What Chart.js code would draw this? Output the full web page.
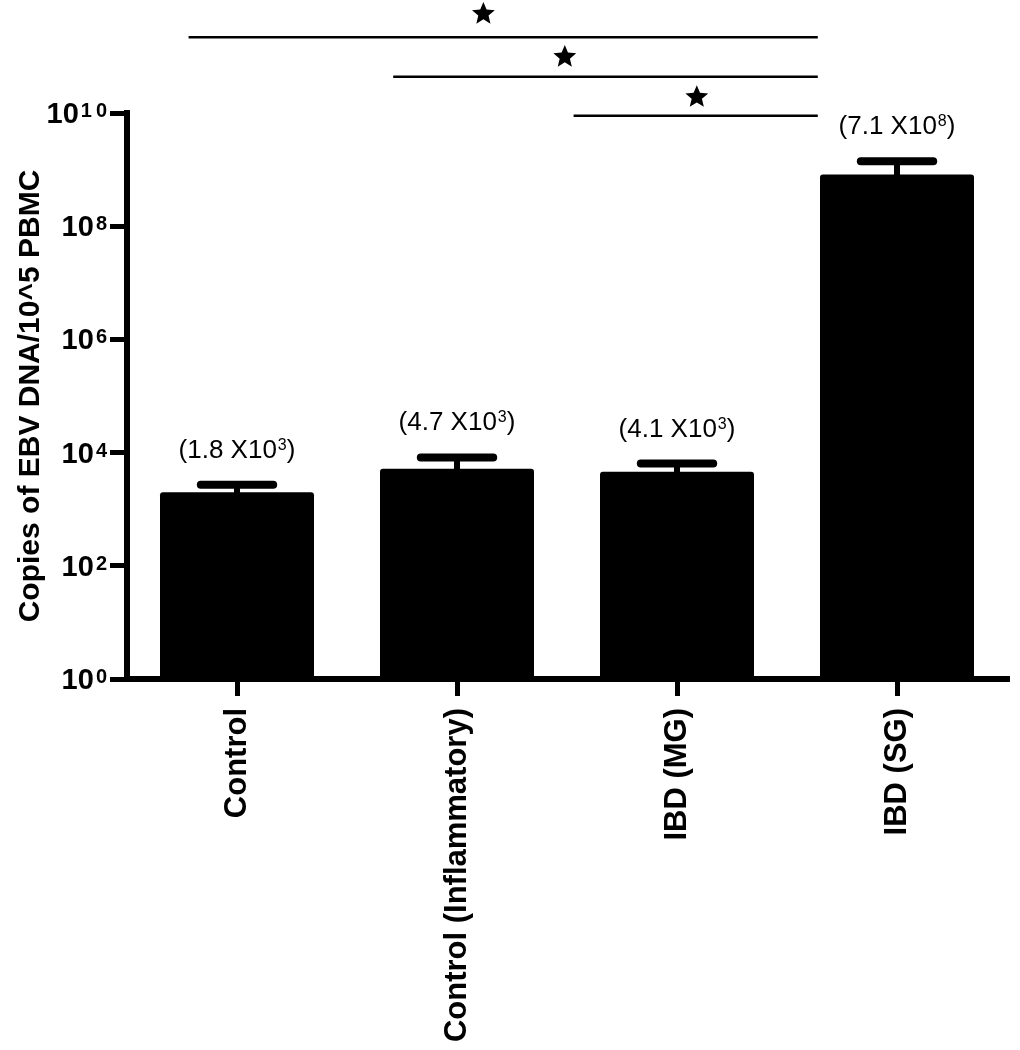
<!DOCTYPE html>
<html>
<head>
<meta charset="utf-8">
<script src="https://cdn.jsdelivr.net/npm/chart.js@4.4.0/dist/chart.umd.min.js"></script>
<style>
  html, body { margin: 0; padding: 0; background: #fff; }
  canvas { display: block; }
</style>
</head>
<body>
<canvas id="ebv" width="1020" height="1050"></canvas>
<script>
(function () {
    "use strict";

    // Data
    var groups = ["Control", "Control (Inflammatory)", "IBD (MG)", "IBD (SG)"];
    var copies = [2000, 5200, 4600, 8.2e8];
    var errTop = [2700, 8200, 6400, 1.4e9];
    var meanText = ["1.8", "4.7", "4.1", "7.1"];
    var meanExp = ["3", "3", "3", "8"];
    var yTicks = [1, 1e2, 1e4, 1e6, 1e8, 1e10];

    // Significance bars (x in category units, heights as log10 of value)
    var sigFrom = [-0.22, 0.71, 1.53];
    var sigTo = [2.64, 2.64, 2.64];
    var sigLevel = [11.34, 10.64, 9.95];
    var starAt = [1.12, 1.49, 2.09];
    var starLevel = [11.75, 10.99, 10.28];

    var FONT = "'Liberation Sans', Arial, sans-serif";

    function star(c, x, y, r) {
        c.beginPath();
        for (var k = 0; k < 10; k++) {
            var rad = k % 2 === 0 ? r : r * 0.45;
            var a = -Math.PI / 2 + k * Math.PI / 5;
            var px = x + rad * Math.cos(a), py = y + rad * Math.sin(a);
            if (k === 0) c.moveTo(px, py); else c.lineTo(px, py);
        }
        c.closePath();
        c.fill();
    }

    // Error bars (upper only)
    var errorBars = {
        id: "errorBars",
        afterDatasetsDraw: function (chart) {
            var c = chart.ctx, y = chart.scales.y;
            var bars = chart.getDatasetMeta(0).data;
            c.save();
            c.strokeStyle = "#000";
            bars.forEach(function (bar, i) {
                var top = y.getPixelForValue(errTop[i]);
                var half = bar.width * 0.235;
                c.lineWidth = 6;
                c.lineCap = "butt";
                c.beginPath();
                c.moveTo(bar.x, bar.y + 2);
                c.lineTo(bar.x, top);
                c.stroke();
                c.lineWidth = 8;
                c.lineCap = "round";
                c.beginPath();
                c.moveTo(bar.x - half, top);
                c.lineTo(bar.x + half, top);
                c.stroke();
            });
            c.restore();
        }
    };

    // Y tick labels as 10 with a superscript power
    var powerTicks = {
        id: "powerTicks",
        afterDraw: function (chart) {
            var c = chart.ctx, y = chart.scales.y;
            var right = y.right - 20;
            c.save();
            c.fillStyle = "#000";
            c.textBaseline = "alphabetic";
            c.textAlign = "left";
            yTicks.forEach(function (v) {
                var py = y.getPixelForValue(v);
                var digits = String(Math.round(Math.log10(v))).split("");
                c.font = "bold 20px " + FONT;
                var supW = 0;
                digits.forEach(function (d, k) { supW += c.measureText(d).width + (k > 0 ? 4 : 0); });
                var sx = right - supW;
                digits.forEach(function (d) {
                    c.fillText(d, sx, py - 10 + 14);
                    sx += c.measureText(d).width + 4;
                });
                c.font = "bold 29px " + FONT;
                var w = c.measureText("10").width;
                c.fillText("10", right - supW - 2 - w, py + 10);
            });
            c.restore();
        }
    };

    // Value labels, significance lines and stars
    var notes = {
        id: "notes",
        afterDraw: function (chart) {
            var c = chart.ctx, x = chart.scales.x, y = chart.scales.y;
            var bars = chart.getDatasetMeta(0).data;
            c.save();
            c.fillStyle = "#000";
            c.strokeStyle = "#000";
            c.textBaseline = "alphabetic";
            c.textAlign = "left";

            bars.forEach(function (bar, i) {
                var base = y.getPixelForValue(errTop[i]) - 27;
                var main = "(" + meanText[i] + " X10";
                c.font = "26px " + FONT;
                var w1 = c.measureText(main).width;
                var w3 = c.measureText(")").width;
                c.font = "16px " + FONT;
                var w2 = c.measureText(meanExp[i]).width + 1;
                var left = bar.x - (w1 + w2 + w3) / 2;
                c.font = "26px " + FONT;
                c.fillText(main, left, base);
                c.fillText(")", left + w1 + w2, base);
                c.font = "16px " + FONT;
                c.fillText(meanExp[i], left + w1 + 1, base - 8);
            });

            c.lineWidth = 2.5;
            c.lineCap = "butt";
            for (var k = 0; k < sigFrom.length; k++) {
                var ly = y.getPixelForValue(Math.pow(10, sigLevel[k]));
                c.beginPath();
                c.moveTo(x.getPixelForValue(sigFrom[k]), ly);
                c.lineTo(x.getPixelForValue(sigTo[k]), ly);
                c.stroke();
                star(c, x.getPixelForValue(starAt[k]), y.getPixelForValue(Math.pow(10, starLevel[k])), 12);
            }
            c.restore();
        }
    };

    var ctx = document.getElementById("ebv").getContext("2d");
    new Chart(ctx, {
        type: "bar",
        data: {
            labels: groups,
            datasets: [{
                data: copies,
                backgroundColor: "#000",
                borderRadius: 3,
                borderSkipped: "bottom",
                barPercentage: 0.7,
                categoryPercentage: 1
            }]
        },
        options: {
            responsive: false,
            animation: false,
            devicePixelRatio: 1,
            layout: { padding: { top: 113, right: 13, left: 0, bottom: 0 } },
            plugins: {
                legend: { display: false },
                tooltip: { enabled: false }
            },
            scales: {
                x: {
                    grid: { drawOnChartArea: false, offset: false, tickLength: 17, lineWidth: 5, color: "#000" },
                    border: { color: "#000", width: 6 },
                    ticks: {
                        minRotation: 90,
                        maxRotation: 90,
                        padding: 12,
                        color: "#000",
                        font: { family: FONT, size: 31, weight: "bold" }
                    },
                    afterFit: function (s) { s.height = 371; }
                },
                y: {
                    type: "logarithmic",
                    min: 1,
                    max: 1e10,
                    afterBuildTicks: function (s) {
                        s.ticks = yTicks.map(function (v) { return { value: v }; });
                    },
                    grid: { drawOnChartArea: false, tickLength: 17, lineWidth: 5, color: "#000" },
                    border: { color: "#000", width: 6 },
                    ticks: { display: false },
                    title: {
                        display: true,
                        text: "Copies of EBV DNA/10^5 PBMC",
                        color: "#000",
                        font: { family: FONT, size: 30, weight: "bold" },
                        padding: { top: 13, bottom: 0 }
                    },
                    afterFit: function (s) { s.width = 127; }
                }
            }
        },
        plugins: [errorBars, powerTicks, notes]
    });
})();
</script>
</body>
</html>
